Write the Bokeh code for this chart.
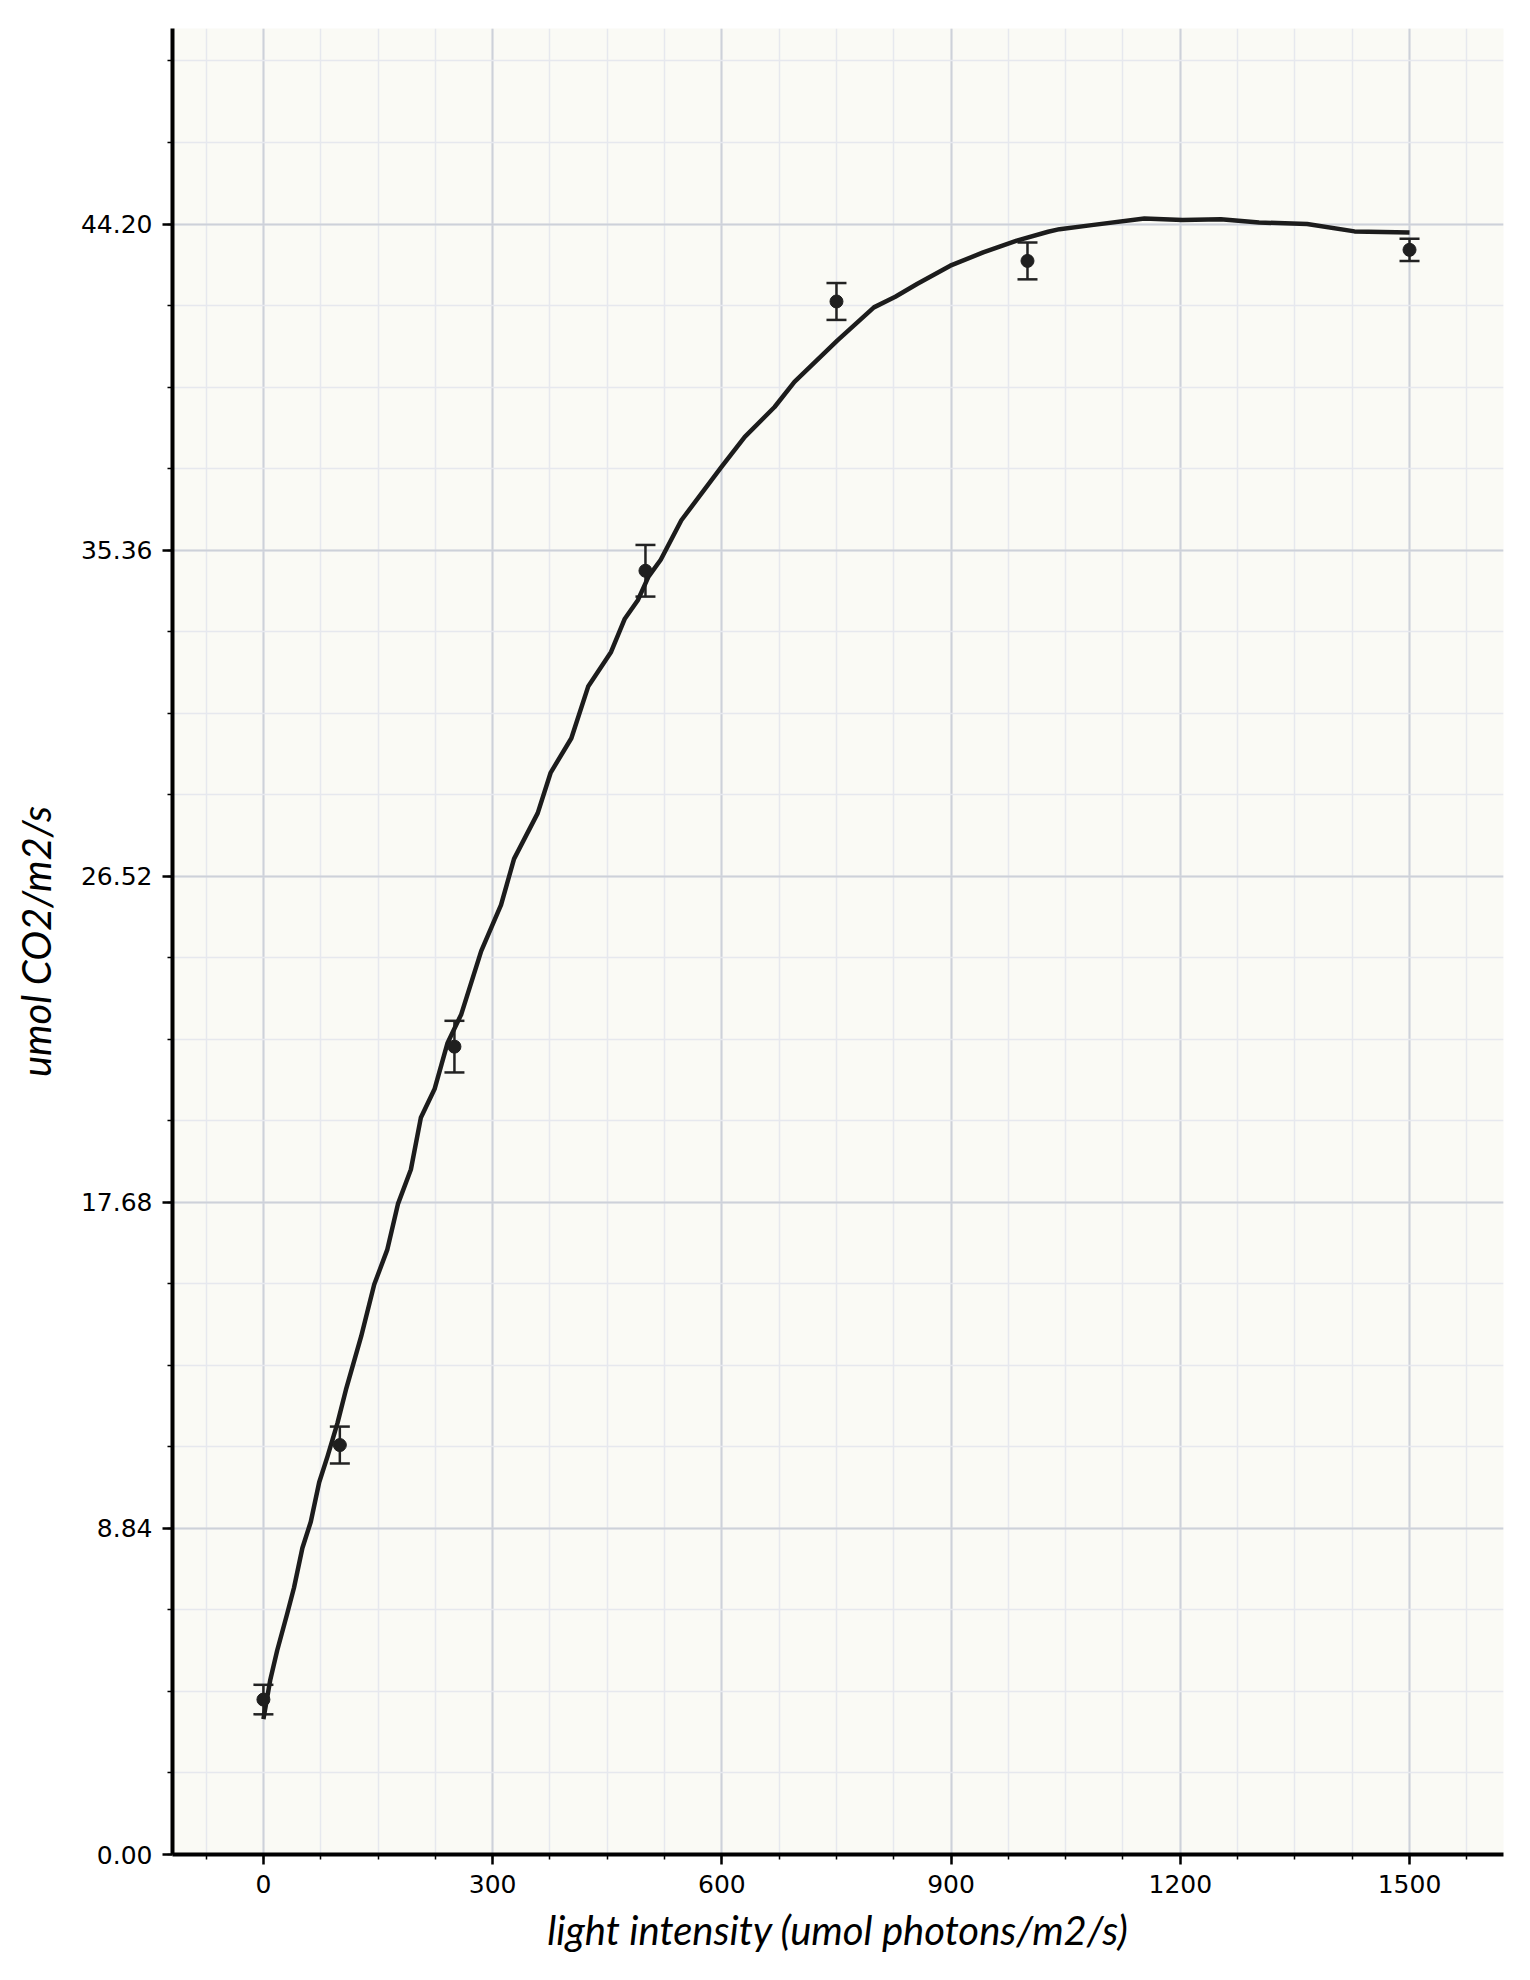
from bokeh.plotting import figure
from bokeh.models import (ColumnDataSource, Whisker, TeeHead, FixedTicker,
                          PrintfTickFormatter, Range1d)
from bokeh.embed import file_html
from bokeh.resources import INLINE

# ---- data ----
light = [0, 100, 250, 500, 750, 1000, 1500]
assim = [4.2, 11.1, 21.9, 34.8, 42.1, 43.2, 43.5]
assim_err = [0.4, 0.5, 0.7, 0.7, 0.5, 0.5, 0.3]

curve_x = [0, 9, 18, 31, 40, 51, 62, 73, 84, 97, 108, 128, 145, 162, 176, 193,
           206, 224, 241, 259, 285, 311, 328, 359, 376, 403, 425, 455, 473, 490,
           504, 520, 547, 599, 630, 669, 695, 751, 799, 827, 856, 899, 942, 986,
           1027, 1042, 1084, 1153, 1203, 1253, 1303, 1366, 1428, 1500]
curve_y = [3.67, 4.74, 5.53, 6.52, 7.23, 8.31, 9.02, 10.09, 10.8, 11.7, 12.6,
           14.05, 15.45, 16.39, 17.63, 18.57, 19.97, 20.75, 22.0, 22.78, 24.49,
           25.74, 26.99, 28.23, 29.33, 30.26, 31.66, 32.6, 33.5, 34.0, 34.64,
           35.1, 36.17, 37.6, 38.43, 39.24, 39.92, 41.04, 41.94, 42.23, 42.58,
           43.07, 43.43, 43.75, 43.99, 44.06, 44.17, 44.35, 44.31, 44.33, 44.24,
           44.2, 44.0, 43.97]

x_ticks = [0, 300, 600, 900, 1200, 1500]
y_ticks = [0.00, 8.84, 17.68, 26.52, 35.36, 44.20]
x_label = "light intensity (umol photons/m2/s)"
y_label = "umol CO2/m2/s"

# ---- figure ----
p = figure(width=1514, height=1964, output_backend="svg", toolbar_location=None,
           x_range=Range1d(-119, 1623), y_range=Range1d(0, 49.5),
           min_border_left=172, min_border_right=11, min_border_top=28,
           min_border_bottom=110)
p.background_fill_color = "#fafaf5"
p.border_fill_color = "white"
p.outline_line_color = None

x_minor = [-75 + 75 * k for k in range(23)]
y_step = y_ticks[1] - y_ticks[0]
y_minor = [round(y_step / 4 * k, 4) for k in range(23)]
p.xaxis.ticker = FixedTicker(ticks=x_ticks, minor_ticks=x_minor)
p.yaxis.ticker = FixedTicker(ticks=y_ticks, minor_ticks=y_minor)
p.yaxis.formatter = PrintfTickFormatter(format="%.2f")

for ax in (p.xaxis, p.yaxis):
    ax.axis_line_width = 4
    ax.axis_line_color = "black"
    ax.major_tick_line_width = 2.5
    ax.major_tick_line_color = "black"
    ax.major_tick_out = 10
    ax.major_tick_in = 0
    ax.minor_tick_line_width = 1.5
    ax.minor_tick_line_color = "black"
    ax.minor_tick_out = 5
    ax.minor_tick_in = 0
    ax.major_label_text_font = "DejaVu Sans"
    ax.major_label_text_font_size = "25px"
    ax.major_label_text_color = "black"
    ax.major_label_standoff = 10
    ax.axis_label_text_font = "Lato"
    ax.axis_label_text_font_style = "italic"
    ax.axis_label_text_font_size = "40px"
    ax.axis_label_text_color = "black"

p.xaxis.axis_label = x_label
p.yaxis.axis_label = y_label
p.xaxis.axis_label_standoff = 10
p.yaxis.axis_label_standoff = 18

for g in (p.xgrid, p.ygrid):
    g.grid_line_color = "#cdd1d9"
    g.grid_line_width = 2
    g.minor_grid_line_color = "#e6e8ee"
    g.minor_grid_line_width = 1.5

# fitted curve
p.line(curve_x, curve_y, line_width=4.5, line_color="#1c1c1c", line_join="round")

# data with error bars
src = ColumnDataSource(dict(
    x=light, y=assim,
    upper=[a + e for a, e in zip(assim, assim_err)],
    lower=[a - e for a, e in zip(assim, assim_err)],
))
p.add_layout(Whisker(base="x", upper="upper", lower="lower", source=src,
                     line_color="#222222", line_width=2.5,
                     upper_head=TeeHead(size=20, line_color="#222222", line_width=2.5),
                     lower_head=TeeHead(size=20, line_color="#222222", line_width=2.5)))
p.scatter("x", "y", source=src, size=13, fill_color="#1f1f1f", line_color="#1f1f1f")

open("out.html", "w").write(file_html(p, INLINE))
